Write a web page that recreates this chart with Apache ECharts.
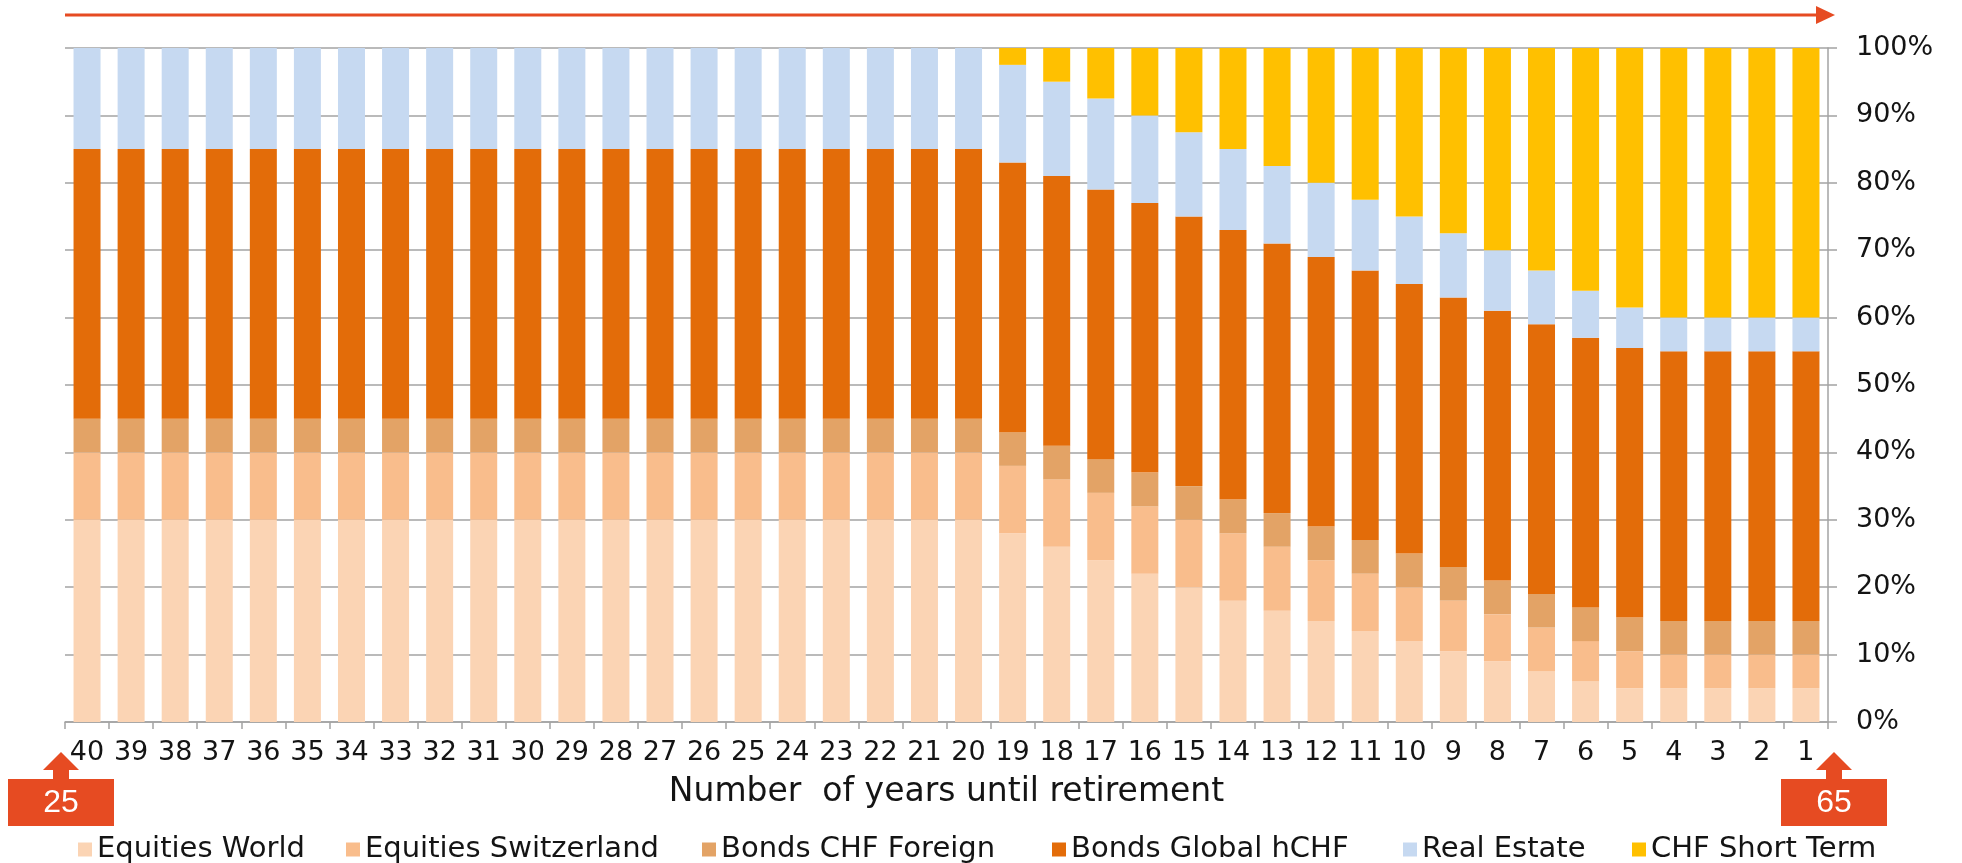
<!DOCTYPE html>
<html>
<head>
<meta charset="utf-8">
<script src="https://cdn.jsdelivr.net/npm/echarts@6/dist/echarts.min.js"></script>
<style>
html,body{margin:0;padding:0;background:#ffffff;}
#chart{width:1962px;height:863px;}
</style>
</head>
<body>
<div id="chart"></div>
<script>
// ---- data (values in % of portfolio, years until retirement 40 -> 1) ----
const categories = ['40','39','38','37','36','35','34','33','32','31','30','29','28','27','26','25','24','23','22','21','20',
                    '19','18','17','16','15','14','13','12','11','10','9','8','7','6','5','4','3','2','1'];
const equitiesWorld = [30,30,30,30,30,30,30,30,30,30,30,30,30,30,30,30,30,30,30,30,30,
                       28,26,24,22,20,18,16.5,15,13.5,12,10.5,9,7.5,6,5,5,5,5,5];
const equitiesSwitzerland = [10,10,10,10,10,10,10,10,10,10,10,10,10,10,10,10,10,10,10,10,10,
                       10,10,10,10,10,10,9.5,9,8.5,8,7.5,7,6.5,6,5.5,5,5,5,5];
const bondsCHFForeign = [5,5,5,5,5,5,5,5,5,5,5,5,5,5,5,5,5,5,5,5,5,
                       5,5,5,5,5,5,5,5,5,5,5,5,5,5,5,5,5,5,5];
const bondsGlobalHCHF = [40,40,40,40,40,40,40,40,40,40,40,40,40,40,40,40,40,40,40,40,40,
                       40,40,40,40,40,40,40,40,40,40,40,40,40,40,40,40,40,40,40];
const realEstate = [15,15,15,15,15,15,15,15,15,15,15,15,15,15,15,15,15,15,15,15,15,
                       14.5,14,13.5,13,12.5,12,11.5,11,10.5,10,9.5,9,8,7,6,5,5,5,5];
const chfShortTerm = [0,0,0,0,0,0,0,0,0,0,0,0,0,0,0,0,0,0,0,0,0,
                       2.5,5,7.5,10,12.5,15,17.5,20,22.5,25,27.5,30,33,36,38.5,40,40,40,40];
const seriesNames = ['Equities World','Equities Switzerland','Bonds CHF Foreign','Bonds Global hCHF','Real Estate','CHF Short Term'];
const yTickValues = [0,10,20,30,40,50,60,70,80,90,100];
const axisTitle = 'Number  of years until retirement';
const startAgeLabel = '25';
const endAgeLabel = '65';

// ---- styling ----
const seriesData = [equitiesWorld, equitiesSwitzerland, bondsCHFForeign, bondsGlobalHCHF, realEstate, chfShortTerm];
const seriesColors = ['#FBD4B4','#F9BD8C','#E3A366','#E36C09','#C6D9F1','#FFC000'];
const legendLefts = [78, 346, 702, 1052, 1403, 1632];
const FONT = 'DejaVu Sans';
const TXT = '#141414';
const GRAY = '#a3a3a3';
const ACCENT = '#E64B22';

const chart = echarts.init(document.getElementById('chart'), null, {renderer:'canvas', width:1962, height:863});

function upArrowBox(cx, label){
  return [
    {type:'polygon', shape:{points:[[cx,752],[cx+18,770],[cx+8,770],[cx+8,780],[cx-8,780],[cx-8,770],[cx-18,770]]}, style:{fill:ACCENT}},
    {type:'rect', shape:{x:cx-53, y:779, width:106, height:47}, style:{fill:ACCENT}},
    {type:'text', x:cx, y:803, style:{text:label, fill:'#ffffff', font:'32px "Liberation Sans", Arial, sans-serif', align:'center', verticalAlign:'middle'}}
  ];
}

const option = {
  animation:false,
  backgroundColor:'#ffffff',
  grid:{left:65, right:134, top:48, bottom:141, containLabel:false},
  legend: seriesNames.map((n,i)=>({
    data:[n], left:legendLefts[i], top:835, padding:0, icon:'rect', itemWidth:14, itemHeight:14,
    textStyle:{fontFamily:FONT, fontSize:29, color:TXT}
  })),
  xAxis:{
    type:'category', data:categories,
    axisLine:{show:true, lineStyle:{color:GRAY, width:1.5}},
    axisTick:{show:true, alignWithLabel:false, interval:0, length:7, lineStyle:{color:GRAY, width:1.5}},
    axisLabel:{interval:0, margin:17, fontFamily:FONT, fontSize:27, color:TXT},
    name:axisTitle, nameLocation:'middle', nameGap:54,
    nameTextStyle:{fontFamily:FONT, fontSize:33, color:TXT}
  },
  yAxis:{
    type:'value', position:'right', min:yTickValues[0], max:yTickValues[yTickValues.length-1], interval:10,
    axisLine:{show:true, lineStyle:{color:GRAY, width:1.5}},
    axisTick:{show:true, length:9, lineStyle:{color:GRAY, width:1.5}},
    splitLine:{show:true, lineStyle:{color:GRAY, width:1.5}},
    axisLabel:{formatter:'{value}%', margin:28, fontFamily:FONT, fontSize:27, color:TXT}
  },
  series: seriesNames.map((n,i)=>({
    type:'bar', name:n, stack:'total', data:seriesData[i], barWidth:27,
    itemStyle:{color:seriesColors[i]}
  })),
  graphic:[
    {type:'line', shape:{x1:65, y1:15, x2:1818, y2:15}, style:{stroke:ACCENT, lineWidth:3}},
    {type:'polygon', shape:{points:[[1816,6],[1835,15],[1816,24]]}, style:{fill:ACCENT}},
    ...upArrowBox(61, startAgeLabel),
    ...upArrowBox(1834, endAgeLabel)
  ]
};
chart.setOption(option);
</script>
</body>
</html>
